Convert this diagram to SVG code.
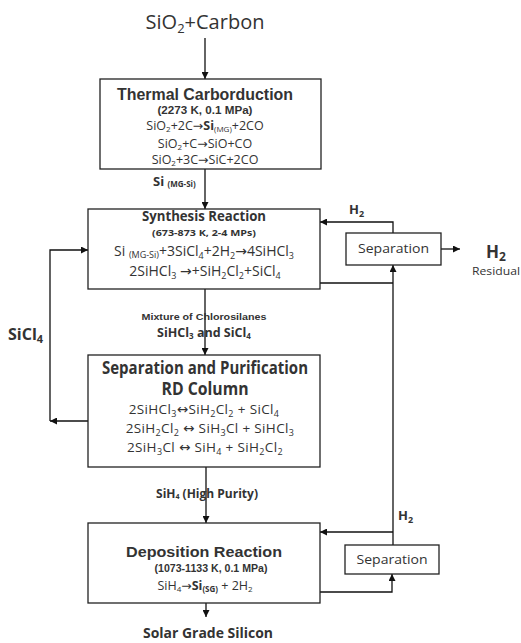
<svg xmlns="http://www.w3.org/2000/svg" width="521" height="643" viewBox="0 0 521 643">
  <style>
    .box { fill: #ffffff; stroke: #222222; stroke-width: 1.3; }
    .ln { fill: none; stroke: #111111; stroke-width: 1.3; }
    .cal { font-family: "Open Sans", "Liberation Sans", sans-serif; fill: #333333; }
    .ari { font-family: "Liberation Sans", Arial, sans-serif; fill: #333333; }
    .b { font-weight: bold; }
    .mid { text-anchor: middle; }
    .ar { font-family: "DejaVu Sans", sans-serif; }
    .eq { letter-spacing: 0.35px; }
  </style>
  <defs>
    <marker id="arrow" viewBox="0 0 10 10" refX="10" refY="5" markerWidth="7" markerHeight="7" markerUnits="userSpaceOnUse" orient="auto">
      <path d="M0,0 L10,5 L0,10 z" fill="#111111"/>
    </marker>
  </defs>

  <rect width="521" height="643" fill="#ffffff"/>

  <!-- connectors -->
  <g id="connectors">
    <path class="ln" d="M205,38 V79" marker-end="url(#arrow)"/>
    <path class="ln" d="M205,169 V209" marker-end="url(#arrow)"/>
    <path class="ln" d="M205,289 V355" marker-end="url(#arrow)"/>
    <path class="ln" d="M206,467 V523" marker-end="url(#arrow)"/>
    <path class="ln" d="M206,603 V617" marker-end="url(#arrow)"/>
    <!-- SiCl4 recycle loop -->
    <path class="ln" d="M88,421 H50" marker-end="url(#arrow)"/>
    <path class="ln" d="M50,421 V250 H88" marker-end="url(#arrow)"/>
    <!-- upper hydrogen loop -->
    <path class="ln" d="M393,233 V222 H320" marker-end="url(#arrow)"/>
    <path class="ln" d="M441,249 H460" marker-end="url(#arrow)"/>
    <path class="ln" d="M320,283 H393"/>
    <path class="ln" d="M393,545 V265" marker-end="url(#arrow)"/>
    <!-- lower hydrogen loop -->
    <path class="ln" d="M393,532 H320" marker-end="url(#arrow)"/>
    <path class="ln" d="M320,592 H392 V574" marker-end="url(#arrow)"/>
  </g>

  <!-- stream labels -->
  <g id="labels">
    <text class="cal mid" x="205" y="29" font-size="20">SiO<tspan font-size="13" dy="4">2</tspan><tspan dy="-4">+Carbon</tspan></text>
    <text class="cal b" x="153" y="186" font-size="13">Si <tspan font-size="8" dy="1">(MG-Si)</tspan></text>
    <text class="ari b mid" x="204" y="320" font-size="9.5" fill="#444444" textLength="125" lengthAdjust="spacingAndGlyphs">Mixture of Chlorosilanes</text>
    <text class="cal b mid" x="204" y="337" font-size="12.5">SiHCl<tspan font-size="8" dy="2">3</tspan><tspan dy="-2"> and SiCl</tspan><tspan font-size="8" dy="2">4</tspan></text>
    <text class="cal b" x="8" y="340" font-size="16">SiCl<tspan font-size="11" dy="3">4</tspan></text>
    <text class="cal b mid" x="207" y="498" font-size="12">SiH<tspan font-size="7" dy="1">4</tspan><tspan dy="-1"> (High Purity)</tspan></text>
    <text class="cal b" x="349" y="214" font-size="13">H<tspan font-size="9" dy="3">2</tspan></text>
    <text class="cal b" x="398" y="520" font-size="13">H<tspan font-size="9" dy="3">2</tspan></text>
    <text class="cal b" x="486" y="258" font-size="17">H<tspan font-size="12" dy="3">2</tspan></text>
    <text class="cal" x="472" y="275" font-size="10.5" textLength="48" lengthAdjust="spacingAndGlyphs">Residual</text>
    <text class="cal b mid" x="208" y="638" font-size="15" textLength="130" lengthAdjust="spacingAndGlyphs">Solar Grade Silicon</text>
  </g>

  <g id="thermal-carborduction">
    <rect class="box" x="100" y="79" width="221" height="90"/>
    <text class="ari b mid" x="205" y="100" font-size="16" textLength="176" lengthAdjust="spacingAndGlyphs">Thermal Carborduction</text>
    <text class="ari b mid" x="205" y="114" font-size="10.5" textLength="95" lengthAdjust="spacingAndGlyphs">(2273 K, 0.1 MPa)</text>
    <text class="cal mid" x="205" y="130" font-size="12.5">SiO<tspan font-size="8" dy="2">2</tspan><tspan dy="-2">+2C</tspan><tspan class="ar">→</tspan><tspan font-weight="bold">Si</tspan><tspan font-size="8" dy="2">(MG)</tspan><tspan dy="-2">+2CO</tspan></text>
    <text class="cal mid" x="205" y="148" font-size="12.5">SiO<tspan font-size="8" dy="2">2</tspan><tspan dy="-2">+C</tspan><tspan class="ar">→</tspan><tspan>SiO+CO</tspan></text>
    <text class="cal mid" x="205" y="164" font-size="12.5">SiO<tspan font-size="8" dy="2">2</tspan><tspan dy="-2">+3C</tspan><tspan class="ar">→</tspan><tspan>SiC+2CO</tspan></text>
  </g>

  <g id="synthesis-reaction">
    <rect class="box" x="88" y="209" width="232" height="80"/>
    <text class="cal b mid" x="204" y="221" font-size="14" textLength="124" lengthAdjust="spacingAndGlyphs">Synthesis Reaction</text>
    <text class="cal b mid" x="204" y="236" font-size="9" textLength="104" lengthAdjust="spacingAndGlyphs">(673-873 K, 2-4 MPs)</text>
    <text class="cal mid" x="204" y="256" font-size="14">Si <tspan font-size="9" dy="2">(MG-Si)</tspan><tspan dy="-2">+3SiCl</tspan><tspan font-size="9" dy="3">4</tspan><tspan dy="-3">+2H</tspan><tspan font-size="9" dy="3">2</tspan><tspan dy="-3" class="ar">→</tspan><tspan>4SiHCl</tspan><tspan font-size="9" dy="3">3</tspan></text>
    <text class="cal mid" x="205" y="276" font-size="14">2SiHCl<tspan font-size="9" dy="3">3</tspan><tspan dy="-3"> </tspan><tspan class="ar">→</tspan><tspan>+SiH</tspan><tspan font-size="9" dy="3">2</tspan><tspan dy="-3">Cl</tspan><tspan font-size="9" dy="3">2</tspan><tspan dy="-3">+SiCl</tspan><tspan font-size="9" dy="3">4</tspan></text>
  </g>

  <g id="separation-purification">
    <rect class="box" x="88" y="355" width="232" height="112"/>
    <text class="cal b mid" x="205" y="374" font-size="17" textLength="206" lengthAdjust="spacingAndGlyphs">Separation and Purification</text>
    <text class="cal b mid" x="205" y="395" font-size="17" textLength="87" lengthAdjust="spacingAndGlyphs">RD Column</text>
    <text class="cal mid eq" x="204" y="414" font-size="13.5">2SiHCl<tspan font-size="9" dy="3">3</tspan><tspan dy="-3" class="ar">↔</tspan><tspan>SiH</tspan><tspan font-size="9" dy="3">2</tspan><tspan dy="-3">Cl</tspan><tspan font-size="9" dy="3">2</tspan><tspan dy="-3"> + SiCl</tspan><tspan font-size="9" dy="3">4</tspan></text>
    <text class="cal mid eq" x="210" y="433" font-size="13.5">2SiH<tspan font-size="9" dy="3">2</tspan><tspan dy="-3">Cl</tspan><tspan font-size="9" dy="3">2</tspan><tspan dy="-3"> </tspan><tspan class="ar">↔</tspan><tspan> SiH</tspan><tspan font-size="9" dy="3">3</tspan><tspan dy="-3">Cl + SiHCl</tspan><tspan font-size="9" dy="3">3</tspan></text>
    <text class="cal mid eq" x="205" y="452" font-size="13.5">2SiH<tspan font-size="9" dy="3">3</tspan><tspan dy="-3">Cl </tspan><tspan class="ar">↔</tspan><tspan> SiH</tspan><tspan font-size="9" dy="3">4</tspan><tspan dy="-3"> + SiH</tspan><tspan font-size="9" dy="3">2</tspan><tspan dy="-3">Cl</tspan><tspan font-size="9" dy="3">2</tspan></text>
  </g>

  <g id="deposition-reaction">
    <rect class="box" x="88" y="523" width="232" height="80"/>
    <text class="ari b mid" x="204" y="557" font-size="15.5" textLength="156" lengthAdjust="spacingAndGlyphs">Deposition Reaction</text>
    <text class="ari b mid" x="211" y="572" font-size="10.5" textLength="113" lengthAdjust="spacingAndGlyphs">(1073-1133 K, 0.1 MPa)</text>
    <text class="cal mid" x="205" y="590" font-size="12.5">SiH<tspan font-size="8" dy="2">4</tspan><tspan dy="-2" class="ar">→</tspan><tspan font-weight="bold">Si</tspan><tspan font-size="8" font-weight="bold" dy="2">(SG)</tspan><tspan dy="-2"> + 2H</tspan><tspan font-size="8" dy="2">2</tspan></text>
  </g>

  <g id="separation-upper">
    <rect class="box" x="346" y="233" width="95" height="32"/>
    <text class="cal mid" x="393.5" y="253" font-size="12.5" textLength="71" lengthAdjust="spacingAndGlyphs">Separation</text>
  </g>

  <g id="separation-lower">
    <rect class="box" x="345" y="545" width="94" height="29"/>
    <text class="cal mid" x="392" y="564" font-size="12.5" textLength="71" lengthAdjust="spacingAndGlyphs">Separation</text>
  </g>
</svg>
